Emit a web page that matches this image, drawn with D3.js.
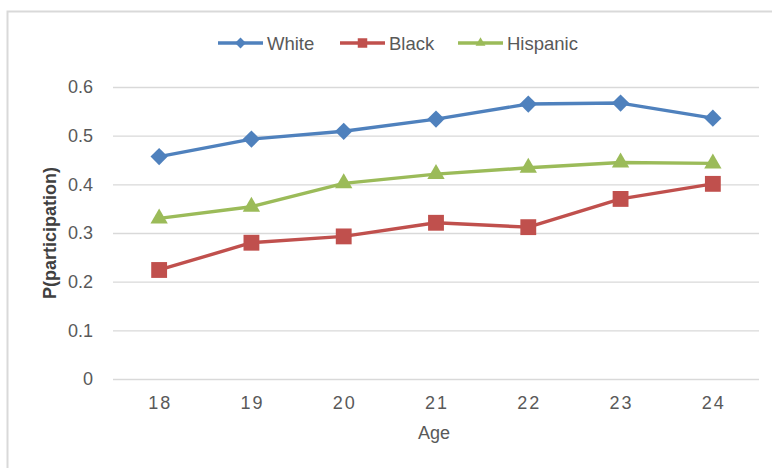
<!DOCTYPE html>
<html>
<head>
<meta charset="utf-8">
<script src="https://cdn.jsdelivr.net/npm/d3@7/dist/d3.min.js"></script>
<style>
  html, body { margin: 0; padding: 0; background: #fff; }
  svg { display: block; }
  text { font-family: "Liberation Sans Narrow", "Liberation Sans", "Open Sans", sans-serif; }
</style>
</head>
<body>
<svg id="chart" width="772" height="468"></svg>
<script>
// Participation probability by age, for three groups
const ages = ["18", "19", "20", "21", "22", "23", "24"];
const white    = [0.457, 0.493, 0.509, 0.534, 0.565, 0.567, 0.536];
const black    = [0.224, 0.280, 0.293, 0.321, 0.312, 0.370, 0.401];
const hispanic = [0.330, 0.354, 0.402, 0.421, 0.434, 0.445, 0.443];
const yTicks   = [0, 0.1, 0.2, 0.3, 0.4, 0.5, 0.6];
const seriesNames = ["White", "Black", "Hispanic"];

const series = [
  { name: seriesNames[0], values: white,    color: "#4F81BD", symbol: d3.symbolDiamond2,  size: 190, legendSize: 75 },
  { name: seriesNames[1], values: black,    color: "#C0504D", symbol: d3.symbolSquare2,   size: 320, legendSize: 115 },
  { name: seriesNames[2], values: hispanic, color: "#9BBB59", symbol: d3.symbolTriangle2, size: 215, legendSize: 70 }
];

const svg = d3.select("#chart");
const plot = { left: 113, right: 759, top: 87, bottom: 379 };

// chart frame
svg.append("rect")
  .attr("x", 7.5).attr("y", 11.5)
  .attr("width", 790).attr("height", 480)
  .attr("fill", "#fff").attr("stroke", "#D9D9D9").attr("stroke-width", 2);

const x = d3.scaleBand().domain(ages).range([plot.left, plot.right]);
const y = d3.scaleLinear().domain([0, 0.6]).range([plot.bottom, plot.top]);

// horizontal gridlines + y tick labels
const yAxis = d3.axisLeft(y)
  .tickValues(yTicks)
  .tickSize(-(plot.right - plot.left))
  .tickPadding(20)
  .tickFormat(d => d === 0 ? "0" : d3.format(".1f")(d));

const gy = svg.append("g").attr("transform", `translate(${plot.left},0)`).call(yAxis);
gy.select(".domain").remove();
gy.selectAll(".tick line").attr("stroke", "#D9D9D9").attr("stroke-width", 1.3);
gy.selectAll(".tick text")
  .attr("fill", "#595959").attr("font-size", 18)
  .attr("x", -20);

// x axis labels
const xAxis = d3.axisBottom(x).tickSize(0).tickPadding(17);
const gx = svg.append("g").attr("transform", `translate(0,${plot.bottom})`).call(xAxis);
gx.select(".domain").remove();
gx.selectAll(".tick text")
  .attr("fill", "#595959").attr("font-size", 18)
  .attr("letter-spacing", "2px")
  .attr("dx", "1px");

// axis titles
svg.append("text")
  .attr("x", 434).attr("y", 439)
  .attr("text-anchor", "middle")
  .attr("fill", "#595959").attr("font-size", 18)
  .text("Age");

svg.append("text")
  .attr("transform", `translate(56,${(plot.top + plot.bottom) / 2}) rotate(-90)`)
  .attr("text-anchor", "middle")
  .attr("fill", "#404040").attr("font-size", 18).attr("font-weight", "bold")
  .text("P(participation)");

// series lines and markers
const line = d3.line()
  .x((d, i) => x(ages[i]) + x.bandwidth() / 2)
  .y(d => y(d));

series.forEach(s => {
  const g = svg.append("g");
  g.append("path")
    .datum(s.values)
    .attr("d", line)
    .attr("fill", "none")
    .attr("stroke", s.color)
    .attr("stroke-width", 3.4)
    .attr("stroke-linejoin", "round");
  g.selectAll("path.mark")
    .data(s.values)
    .join("path")
    .attr("class", "mark")
    .attr("d", d3.symbol().type(s.symbol).size(s.size))
    .attr("transform", (d, i) => `translate(${x(ages[i]) + x.bandwidth() / 2},${y(d)})`)
    .attr("fill", s.color);
});

// legend
const legendX = [218, 340, 458];
series.forEach((s, i) => {
  const g = svg.append("g").attr("transform", `translate(${legendX[i]},43)`);
  g.append("line")
    .attr("x1", 0).attr("x2", 45)
    .attr("stroke", s.color).attr("stroke-width", 3.4);
  g.append("path")
    .attr("d", d3.symbol().type(s.symbol).size(s.legendSize))
    .attr("transform", "translate(22.5,0)")
    .attr("fill", s.color);
  g.append("text")
    .attr("x", 49).attr("y", 7)
    .attr("fill", "#595959").attr("font-size", 18.5)
    .text(s.name);
});
</script>
</body>
</html>
